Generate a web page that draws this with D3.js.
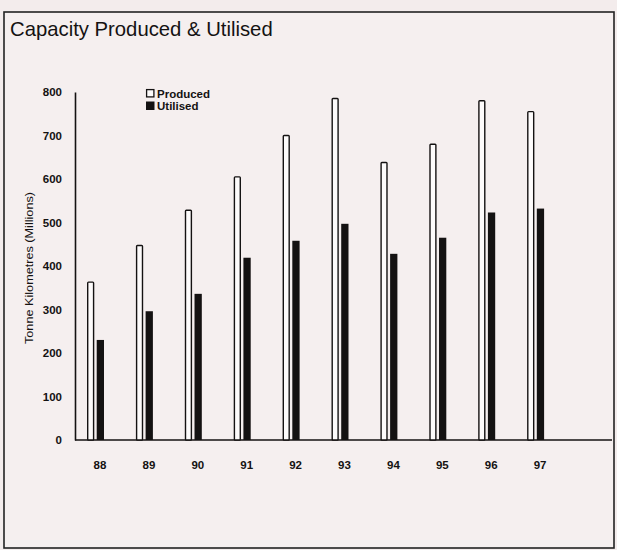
<!DOCTYPE html>
<html>
<head>
<meta charset="utf-8">
<script src="https://cdn.jsdelivr.net/npm/d3@7"></script>
<style>
  html, body { margin: 0; padding: 0; background: #f3ecec; }
  svg { display: block; }
</style>
</head>
<body>
<svg id="chart" width="617" height="550"></svg>
<script>
// Years (19xx) and tonne-kilometre capacity, in millions
const years = ["88", "89", "90", "91", "92", "93", "94", "95", "96", "97"];
const produced = [363, 447, 528, 605, 700, 785, 638, 680, 780, 755];
const utilised = [230, 296, 336, 419, 458, 497, 428, 465, 523, 532];
const seriesNames = ["Produced", "Utilised"];
const yTicks = [0, 100, 200, 300, 400, 500, 600, 700, 800];

const svg = d3.select("#chart");
const font = "'Liberation Sans', Arial, Helvetica, sans-serif";
const ink = "#141212";

// page frame
svg.append("rect")
  .attr("x", 4).attr("y", 12)
  .attr("width", 610).attr("height", 536)
  .attr("fill", "#f5efef")
  .attr("stroke", "#222").attr("stroke-width", 1.6);

svg.append("text")
  .attr("x", 10).attr("y", 36)
  .attr("font-family", font).attr("font-size", 20.3)
  .attr("fill", ink)
  .text("Capacity Produced & Utilised");

const y = d3.scaleLinear().domain([0, 800]).range([440, 92]);
const x = d3.scaleBand().domain(years).range([87, 87 + 48.9 * years.length]).padding(0);
const sub = d3.scaleBand().domain(seriesNames).range([0, 17]).paddingInner(0.25);

// y axis: line, labels only
const yAxis = d3.axisLeft(y).tickValues(yTicks).tickSize(0).tickPadding(13).tickFormat(d3.format("d"));
const gy = svg.append("g").attr("transform", "translate(75,0)").call(yAxis);
gy.select(".domain").attr("stroke", ink).attr("stroke-width", 1.6);
gy.selectAll("text")
  .attr("font-family", font).attr("font-size", 11.5).attr("font-weight", "bold")
  .attr("fill", ink);

// x axis: baseline and year labels
const xAxis = d3.axisBottom(x).tickSize(0).tickPadding(21);
const gx = svg.append("g").attr("transform", "translate(0,440)").call(xAxis);
gx.select(".domain").remove();
gx.selectAll(".tick").attr("transform", d => `translate(${x(d) + 13},0)`);
gx.selectAll("text")
  .attr("font-family", font).attr("font-size", 11.5).attr("font-weight", "bold")
  .attr("fill", ink);
svg.append("line")
  .attr("x1", 75).attr("x2", 612)
  .attr("y1", 440).attr("y2", 440)
  .attr("stroke", ink).attr("stroke-width", 1.6);

// bars
const rows = years.map((yr, i) => ({ yr, Produced: produced[i], Utilised: utilised[i] }));
const groups = svg.append("g").selectAll("g").data(rows).join("g")
  .attr("transform", d => `translate(${x(d.yr)},0)`);

groups.append("rect")
  .attr("x", sub("Produced") + 0.7)
  .attr("y", d => y(d.Produced))
  .attr("width", sub.bandwidth() - 1.4)
  .attr("height", d => y(0) - y(d.Produced))
  .attr("fill", "#fdfbfb").attr("stroke", ink).attr("stroke-width", 1.4)
  .attr("rx", 0.8);

groups.append("rect")
  .attr("x", sub("Utilised"))
  .attr("y", d => y(d.Utilised))
  .attr("width", sub.bandwidth())
  .attr("height", d => y(0) - y(d.Utilised))
  .attr("fill", ink);

// legend
const legend = svg.append("g").attr("transform", "translate(146,89)");
seriesNames.forEach((name, i) => {
  const g = legend.append("g").attr("transform", `translate(0,${i * 12.5})`);
  g.append("rect")
    .attr("x", i === 0 ? 0.6 : 0).attr("y", i === 0 ? 0.6 : 0)
    .attr("width", i === 0 ? 7.3 : 8.5).attr("height", i === 0 ? 7.3 : 8.5)
    .attr("fill", i === 0 ? "#fdfbfb" : ink)
    .attr("stroke", ink).attr("stroke-width", i === 0 ? 1.3 : 0);
  g.append("text")
    .attr("x", 11).attr("y", 8.5)
    .attr("font-family", font).attr("font-size", 11.5).attr("font-weight", 600)
    .attr("fill", ink)
    .text(name);
});

// y axis title
svg.append("text")
  .attr("transform", "translate(33,268) rotate(-90)")
  .attr("text-anchor", "middle")
  .attr("font-family", font).attr("font-size", 10)
  .attr("fill", ink)
  .attr("textLength", 152).attr("lengthAdjust", "spacingAndGlyphs")
  .text("Tonne Kilometres (Millions)");
</script>
</body>
</html>
